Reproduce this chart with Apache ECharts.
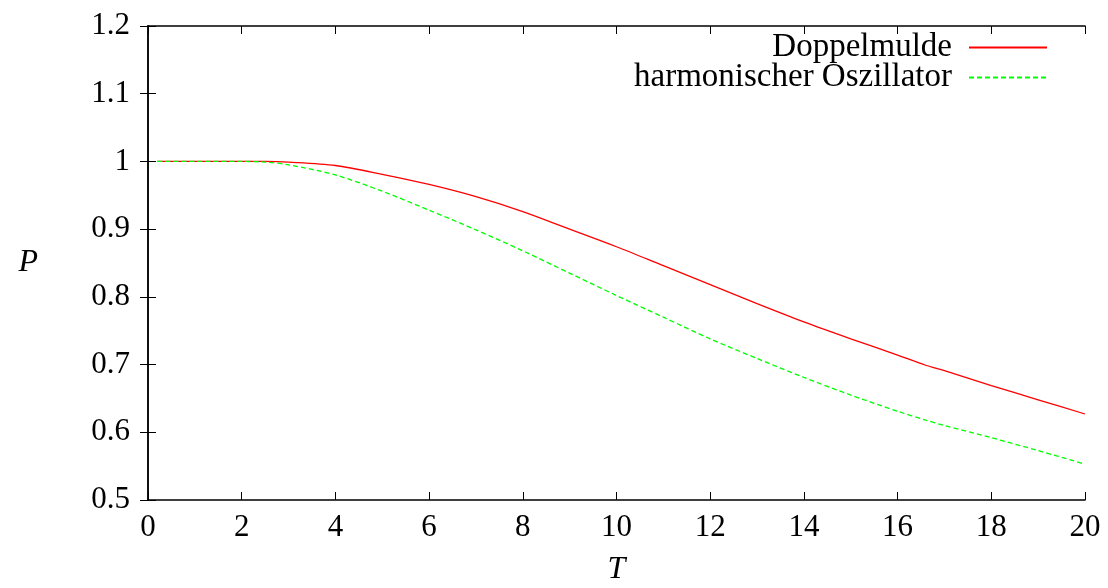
<!DOCTYPE html>
<html>
<head>
<meta charset="utf-8">
<script src="https://cdn.jsdelivr.net/npm/echarts@6/dist/echarts.min.js"></script>
<style>
  html, body { margin: 0; padding: 0; background: #fff; }
  #main { width: 1108px; height: 588px; }
</style>
</head>
<body>
<div id="main"></div>
<script>
// T values
var tValues = [0.2, 1, 2, 2.5, 3, 4, 5, 6, 7, 8, 9, 10, 11, 12, 13, 14, 15, 16, 16.6, 17, 18, 19, 20]
var doppelmulde = [1, 1, 1, 1, 0.999, 0.994, 0.981, 0.966, 0.948, 0.926, 0.900, 0.874, 0.846, 0.818, 0.790, 0.763, 0.738, 0.714, 0.699, 0.691, 0.669, 0.648, 0.627]
var oszillator = [1, 1, 1, 0.999, 0.995, 0.980, 0.956, 0.928, 0.899, 0.868, 0.835, 0.802, 0.770, 0.738, 0.709, 0.681, 0.655, 0.631, 0.618, 0.610, 0.592, 0.573, 0.553]
var seriesNames = ['Doppelmulde', 'harmonischer Oszillator']

function pairs (ys) {
  return tValues.map(function (t, i) { return [t, ys[i]] })
}

var font = 'Liberation Serif, DejaVu Serif, serif'
var black = '#000'

var myChart = echarts.init(document.getElementById('main'))

var legendBase = {
  right: 60,
  padding: 0,
  itemWidth: 78,
  itemHeight: 14,
  align: 'right',
  orient: 'vertical',
  selectedMode: false,
  itemStyle: { opacity: 0 },
  textStyle: { fontFamily: font, fontSize: 33, color: black, padding: [0, 12, 0, 0] }
}

myChart.setOption({
  animation: false,
  grid: { left: 148, right: 23, top: 26, bottom: 88, outerBoundsMode: 'none', containLabel: false },
  legend: [
    Object.assign({}, legendBase, { top: 31, data: [seriesNames[0]] }),
    Object.assign({}, legendBase, { top: 61, data: [seriesNames[1]] })
  ],
  xAxis: [
    {
      type: 'value',
      min: 0,
      max: 20,
      interval: 2,
      name: 'T',
      nameLocation: 'middle',
      nameGap: 54,
      nameTextStyle: { fontFamily: font, fontSize: 32, fontStyle: 'italic', color: black },
      axisLine: { show: true, lineStyle: { color: black, width: 1.5 } },
      axisTick: { inside: true, length: 8, lineStyle: { color: black } },
      axisLabel: { fontFamily: font, fontSize: 31, color: black, margin: 12 },
      splitLine: { show: false }
    },
    {
      type: 'value',
      position: 'top',
      min: 0,
      max: 20,
      interval: 2,
      axisLine: { show: true, lineStyle: { color: black, width: 1.5 } },
      axisTick: { inside: true, length: 8, lineStyle: { color: black } },
      axisLabel: { show: false },
      splitLine: { show: false }
    }
  ],
  yAxis: [
    {
      type: 'value',
      min: 0.5,
      max: 1.2,
      interval: 0.1,
      name: 'P',
      nameLocation: 'middle',
      nameRotate: 0,
      nameGap: 110,
      nameTextStyle: { fontFamily: font, fontSize: 32, fontStyle: 'italic', color: black },
      axisLine: { show: true, lineStyle: { color: black, width: 1.5 } },
      axisTick: { inside: true, length: 8, lineStyle: { color: black } },
      axisLabel: { fontFamily: font, fontSize: 31, color: black, margin: 18 },
      splitLine: { show: false }
    },
    {
      type: 'value',
      position: 'right',
      min: 0.5,
      max: 1.2,
      interval: 0.1,
      axisLine: { show: true, lineStyle: { color: black, width: 1.5 } },
      axisTick: { inside: true, length: 8, lineStyle: { color: black } },
      axisLabel: { show: false },
      splitLine: { show: false }
    }
  ],
  series: [
    {
      name: seriesNames[0],
      type: 'line',
      data: pairs(doppelmulde),
      smooth: 0.3,
      symbol: 'none',
      lineStyle: { color: '#ff0000', width: 1.3 },
      itemStyle: { color: '#ff0000' }
    },
    {
      name: seriesNames[1],
      type: 'line',
      data: pairs(oszillator),
      smooth: 0.3,
      symbol: 'none',
      lineStyle: { color: '#00ff00', width: 1.3, type: [5, 3] },
      itemStyle: { color: '#00ff00' }
    }
  ]
})
</script>
</body>
</html>
